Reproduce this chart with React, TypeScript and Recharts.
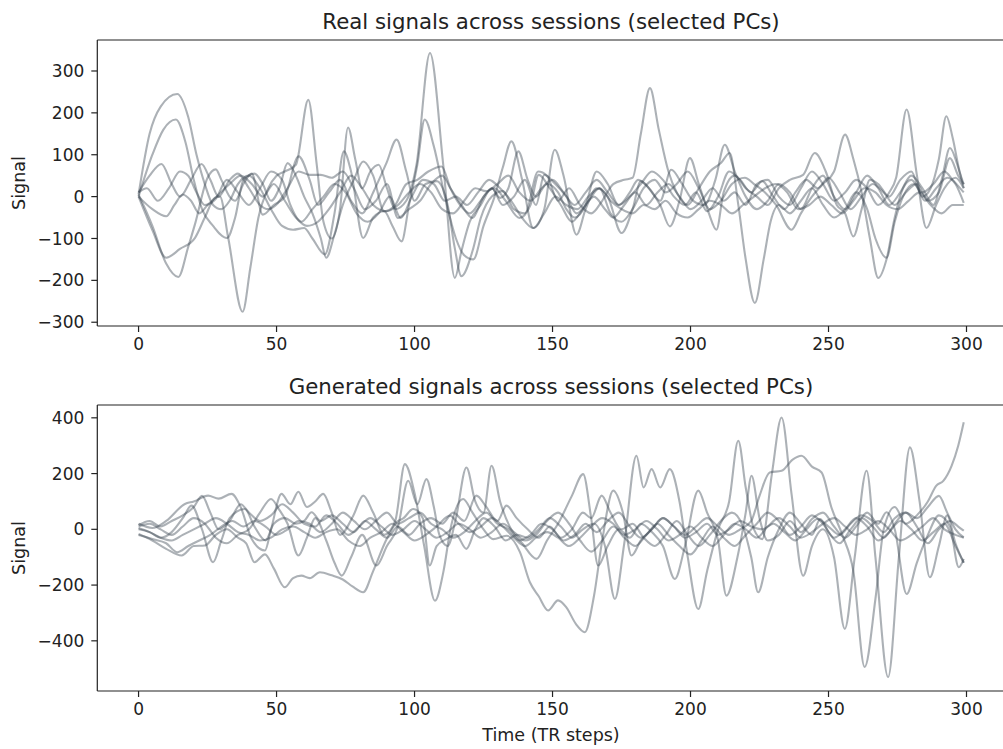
import { LineChart, Line, XAxis, YAxis } from 'recharts';

type Pt = [number, number];

// time axis (TR steps) and tick labels
const xTicks = [0, 50, 100, 150, 200, 250, 300];
const xDomain: [number, number] = [-14.95, 313.95];
const realTicks = [-300, -200, -100, 0, 100, 200, 300];
const realDomain: [number, number] = [-309, 374];
const genTicks = [-400, -200, 0, 200, 400];
const genDomain: [number, number] = [-580, 446];

// real signals, [t, value]
const realA: Pt[] = [[0,5],[4,150],[8,215],[14,245],[18,190],[21,100],[24,30],[27,-20],[30,-30],[33,-10],[36,30],[40,50],[44,20],[48,-30],[52,-70],[56,-79],[60,-75],[63,-100],[67.5,-138],[71,-40],[74.4,108],[77,60],[81.4,-99],[85,-50],[89,-35],[92,-70],[95.3,-107],[98,-20],[101,76],[103.7,184],[107,120],[111,0],[115,-100],[118,-140],[121.3,-150],[125,-70],[129,0],[132,70],[135.1,132],[139,40],[143,-75],[147,-30],[150.8,112],[154,50],[158.7,-91],[162,-30],[166,20],[170,0],[175,-87],[179,-30],[182,37],[186,10],[189,-20],[192.5,-71],[196,-10],[199.8,92],[203,30],[206.4,-35],[209.4,-79],[212,10],[216,50],[220,20],[224,0],[228,-20],[232,20],[236,40],[240.8,52],[245,104],[249,60],[253,-20],[256,-40],[259,-95],[262,-30],[265,40],[268,30],[272,0],[276,40],[280,60],[284,0],[287,20],[290,90],[292.7,192],[295,140],[297.5,60],[299,29]];
const realB: Pt[] = [[0,0],[5,100],[9,160],[13.5,184],[17,130],[20,40],[23,-30],[27,-70],[32,-99],[35,-50],[38,40],[42,55],[45,30],[48,-10],[51,20],[54,80],[57,50],[60,0],[63,-40],[66,-99],[68,-146],[71,-90],[74,-20],[78,40],[81.4,84],[85,50],[89,-35],[93,-20],[97,30],[101,40],[105,60],[109.8,72],[113,20],[116.4,-19],[120,-40],[124,-10],[128,20],[131,-3],[134,20],[137.6,108],[141,40],[144,0],[148,30],[152,10],[155,-30],[158,-50],[162,-20],[166,60],[170,30],[174,-20],[178,10],[181,40],[185,20],[189,-10],[193,64],[197,30],[201,-10],[205,-20],[209,40],[212.4,124],[216,60],[220,0],[224,-30],[228,-10],[232,30],[236,10],[240,-30],[244,20],[248,50],[252,0],[256,-30],[260,10],[264,50],[268,20],[272,-20],[276,10],[280,50],[284,20],[288,-20],[291,40],[294,116],[296.5,80],[299,20]];
const realC: Pt[] = [[0,5],[5,-70],[10,-160],[14.4,-192],[18,-120],[20.4,-67],[25,45],[28,65],[30,40],[33,0],[35,-10],[38,30],[41,55],[45,-43],[49,-20],[53,0],[58,96],[62,40],[65,-20],[69,10],[73,40],[77,-10],[81,-40],[85,10],[89.8,80],[93.5,136],[97,60],[100,-10],[104,30],[108,37],[112,-20],[114.5,-120],[117,-190],[121,-130],[124,-51],[128,0],[132,13],[136,-30],[140,-40],[144.8,60],[148,50],[152,-10],[156,20],[160,-20],[164,-40],[168,-10],[172,30],[176,40],[179,45],[182,150],[185.3,259],[188.5,160],[192,60],[195,10],[199,-20],[203,20],[207,60],[211,80],[214.2,104],[217.3,-19],[220,-150],[223.3,-254],[226.5,-150],[229,-60],[232,-20],[236,-40],[240,-10],[244,20],[248,-20],[252,-50],[256,-30],[260,10],[264,-30],[267,-100],[271,-146],[274,-60],[277,0],[281,30],[285,-10],[289,20],[293,45],[296,30],[299,-15]];
const realD: Pt[] = [[0,0],[5,-80],[10,-146],[15,-125],[20.4,-99],[24,-50],[27.7,-3],[29.5,0],[32.5,-99],[37.7,-275],[40.5,-170],[43.4,-51],[47,20],[50,50],[53,60],[57,76],[61.5,231],[64.5,80],[67,-60],[70,-100],[73,-30],[75.9,165],[78.5,90],[81,20],[84,60],[87,76],[90,20],[93,-30],[97,-10],[100.7,76],[105.6,343],[110.4,76],[114.6,-194],[117,-130],[120,-60],[124,-20],[128,20],[132,-20],[136,0],[140,40],[144,-20],[147,52],[151,30],[155,0],[158.7,-40],[163,-10],[167,20],[171,-40],[175,-60],[179,-30],[183,20],[187,40],[191,10],[195,30],[199,60],[203,20],[207,-30],[211,-10],[215,30],[219.7,45],[223,30],[227,10],[231,-20],[236.6,-79],[240,-40],[244,0],[248,30],[252,60],[256,148],[259,90],[262,10],[265,-100],[268,-194],[271,-150],[274,-50],[277,20],[280,40],[284,10],[288,30],[292,60],[295,40],[299,10]];
const realE: Pt[] = [[0,10],[4,50],[8.3,78],[12,30],[15,0],[19,40],[22.8,78],[26,40],[29,0],[33,40],[36,55],[40,20],[44,-20],[47,-30],[50,-19],[54,20],[58,60],[62,52],[66,52],[70,45],[74,60],[78,20],[82,-30],[86,-10],[90,30],[94,-51],[98,-30],[102,-10],[106,30],[110,50],[113,20],[117,-20],[121,-51],[125,0],[129,20],[133,-10],[138,-51],[142,-20],[145,52],[149,20],[153,-20],[157,-60],[161,-30],[165,0],[169,-30],[172,-50],[176,-20],[180,10],[184,-20],[188,10],[192,30],[196,0],[200,-30],[204,-10],[208,20],[212,-10],[216,10],[220,-20],[224,30],[228,40],[232,0],[236,-20],[240,20],[244,60],[248,30],[252,-10],[256,10],[260,40],[264,20],[268,-20],[272,10],[274.5,45],[278.3,208],[282,52],[285.5,-75],[289,-20],[292,20],[296,45],[299,20]];
const realF: Pt[] = [[0,0],[5,-30],[10,-47],[13,-20],[16,5],[19,-10],[22,-40],[25,-20],[29,5],[33,30],[37,50],[41,30],[45,0],[49,30],[53,-10],[57,-50],[61,-70],[65,-60],[69,-30],[73,10],[77,50],[81,20],[85,-20],[89.8,-35],[94,-20],[98,10],[102,30],[106,10],[110,-30],[114,-40],[118,-10],[122,20],[126,13],[130,30],[134,50],[138,10],[142,-10],[146,20],[150,40],[154,10],[158,-20],[162,10],[166,40],[170,10],[174,-20],[178,0],[182,30],[186,60],[190,40],[194,0],[198,-20],[202,10],[206,-35],[210,0],[214,60],[218,40],[222,10],[226,37],[230,0],[234,-30],[238,10],[242,40],[246,20],[250,45],[254,10],[258,-30],[262,0],[266,30],[270,10],[274,-20],[278,10],[282,30],[286,-10],[290,10],[294,92],[297,50],[299,30]];
const realG: Pt[] = [[0,10],[3,20],[7,-10],[11,20],[15,60],[18,50],[21,10],[24,-20],[28,-5],[32,40],[36,10],[40,-20],[44,20],[48,60],[52,40],[55,-20],[59,-60],[63,-30],[67,0],[71,30],[75,10],[79,-40],[83,-60],[87,-40],[91,0],[95,-51],[99,0],[103,40],[107,30],[111,-10],[115,0],[119,-20],[123,10],[127,40],[131,20],[135,-10],[139,-51],[143,-75],[147,-40],[151,0],[155,-20],[159,-30],[163,0],[167,20],[171,-10],[175,-30],[179,-40],[183,-20],[187,-30],[191,-10],[195,-40],[199,-50],[203,-30],[207,-10],[211,-20],[215,-40],[219,-20],[223,0],[227,20],[231,30],[235,10],[239,-30],[243,-20],[247,0],[251,-20],[255,-40],[259,-10],[263,20],[267,10],[271,-20],[275,-30],[279,-10],[283,10],[287,-20],[291,-40],[295,-20],[299,-20]];

// generated signals, [t, value]
const genA: Pt[] = [[0,20],[5,5],[10,30],[16.8,91],[20,100],[25.2,121],[29,110],[33.7,127],[37,80],[41,-35],[45.8,-76],[48,0],[51.8,127],[55,90],[57.9,135],[61,80],[64,100],[66.9,127],[70,60],[73,-20],[77.8,49],[81.4,121],[85,60],[89,-20],[93,30],[96.5,234],[100,130],[103.5,-60],[107.4,-256],[110.5,-150],[113,0],[117.6,109],[121,60],[125,0],[128.5,-35],[133.3,-23],[138.2,-82],[141.8,-190],[145,-240],[148.4,-291],[152,-255],[155,-280],[158.5,-340],[161.7,-369],[165,-240],[168,-40],[172,139],[175.5,60],[178.6,-94],[182,-40],[186,0],[190,40],[194,10],[198,-20],[202,10],[206,40],[210,10],[214,-20],[218,0],[222,30],[225,120],[228.7,204],[233,210],[237,250],[240.2,264],[244,225],[247.5,204],[251,80],[255,-20],[259,-150],[263.1,-494],[267,-250],[270,0],[274,80],[278,20],[282,50],[286,100],[289,156],[291.6,174],[294.6,228],[297,300],[299,384]];
const genB: Pt[] = [[0,-17],[5,-40],[10,-70],[15.6,-94],[20,-60],[24,-58],[28,-20],[32,0],[36,-30],[39,-50],[42,-118],[45.8,-90],[49,-140],[53,-208],[56,-175],[59,-166],[62,-175],[65.7,-154],[70,-165],[74,-180],[77.5,-205],[81.4,-226],[85,-150],[89.9,-35],[93.5,25],[96,40],[99.5,73],[103,40],[105.5,-130],[108,-60],[111.6,-35],[115,-20],[118.8,-70],[122,0],[125,40],[129,10],[133,-40],[137,-20],[141,-30],[145,0],[149,40],[153,10],[157,-30],[161,0],[165,20],[169,-60],[172.6,-250],[176,-50],[180.4,264],[183,150],[185.9,216],[189,150],[192.5,216],[196,100],[199,-100],[202.8,-286],[206,-150],[210,0],[214,100],[217.3,318],[220,150],[223,0],[226,-35],[229.5,200],[233,401],[236.6,127],[240.8,-166],[244,-60],[248,0],[252,-100],[255.9,-357],[259.5,-100],[263.8,210],[267,-100],[271.6,-530],[275.5,-100],[279.5,294],[283,100],[286.7,-172],[290,-60],[293,50],[296,-50],[299,-120]];
const genC: Pt[] = [[0,10],[4,20],[8,0],[12,-20],[16,10],[20,40],[24,20],[28,-30],[32,-50],[36,-20],[40,0],[44,60],[48,109],[51,70],[54,20],[57.9,-94],[61,-30],[64,40],[68,-40],[71,-120],[73.6,-166],[77,-100],[81,-20],[86.2,-130],[90,-60],[94,10],[97.7,174],[101,90],[104.3,180],[107,80],[109,-20],[112,-60],[115,40],[118.8,222],[122,100],[125,60],[127.9,228],[131,100],[135,0],[139,-50],[144.2,-106],[148,-40],[152,20],[157,120],[161.1,198],[164,40],[166.5,-130],[170,-60],[174,0],[178,-30],[182,20],[186,-10],[190,-60],[194.3,-178],[198,-60],[202.8,139],[206,60],[210,-40],[213,-238],[217,-100],[220,60],[222.1,192],[225,40],[228,-40],[232,-20],[236,30],[240,-10],[244,37],[248,60],[252,10],[256,-30],[260,10],[264,60],[268,20],[271,61],[274,0],[278.3,-232],[282,-120],[286,-20],[290,50],[294,10],[297.2,-136],[299,-106]];
const genD: Pt[] = [[0,0],[4,-10],[8,-30],[12,-10],[16,40],[19.2,85],[23,0],[27,-118],[30,-40],[33,40],[38.5,73],[42,10],[46,-40],[49,20],[53,40],[57,20],[60,30],[62.7,61],[66,30],[70,50],[74,20],[78,-10],[82,30],[86,0],[90,-30],[94,10],[98,-20],[102,20],[106,40],[110,20],[114,60],[118,30],[122.4,121],[126,80],[130,30],[133.3,85],[137,40],[141,0],[145,-30],[149,10],[153,-30],[157,0],[161,60],[164,40],[167.8,121],[171,60],[175,0],[179,20],[183,-30],[187,-60],[191,-20],[195,30],[199,-20],[203,-60],[207,-20],[211,30],[215,60],[219,10],[222,-100],[224.5,-226],[228,-100],[232,0],[236,60],[240,20],[244,-20],[247,37],[250,-10],[254,-50],[258,0],[262,40],[266,10],[270,-30],[274,20],[278,60],[282,10],[286,-50],[290,0],[294,30],[297,10],[299,-5]];
const genE: Pt[] = [[0,-20],[5,-35],[10,-50],[14,-82],[18,-60],[22,-40],[26,-20],[30,10],[34,30],[38,10],[42,30],[46,10],[50,-20],[54,0],[58,30],[62,20],[66,-10],[70,20],[74,60],[78,30],[82,0],[86,30],[90,60],[94,20],[98,40],[102,60],[106,20],[110,0],[114,-30],[118,-10],[122,30],[126,60],[130,20],[134,0],[138,-40],[142,-20],[146,20],[150,0],[154,-40],[158,-20],[162,20],[166,-10],[170,30],[174,60],[178,10],[182,-30],[186,0],[190,40],[194,10],[198,-30],[202,-10],[206,20],[210,-20],[214,0],[218,30],[222,10],[226,0],[230,20],[234,-10],[238,-40],[242,0],[246,37],[250,10],[254,-20],[258,20],[262,50],[266,30],[270,-10],[274,40],[278,60],[282,40],[286,80],[290,120],[293,60],[296,0],[299,-29]];
const genF: Pt[] = [[0,15],[4,30],[8,10],[12,30],[16,50],[20,80],[23,120],[26,60],[29,0],[33,30],[37,90],[40,60],[44,30],[48,50],[52,90],[56,60],[60,20],[64,10],[68,50],[72,20],[76,-20],[80,10],[84,40],[88,10],[92,-20],[96,0],[100,30],[104,0],[108,-30],[112,-10],[116,20],[120,0],[124,-30],[128,-10],[132,20],[136,-10],[140,-40],[144,-20],[148,30],[152,60],[156,20],[160,-40],[164,-80],[168,-40],[172,10],[176,-30],[180,-60],[184,-20],[188,20],[192,-20],[196,-60],[200,-90],[204,-40],[208,10],[212,-30],[216,-60],[220,-20],[224,20],[228,60],[232,30],[236,-20],[240,10],[244,50],[248,20],[252,-30],[256,0],[260,40],[264,10],[268,-40],[272,-10],[276,30],[280,0],[284,-40],[288,-10],[292,20],[296,-60],[299,-120]];
const genG: Pt[] = [[0,5],[4,-10],[8,-30],[12,-40],[16,-20],[20,0],[24,20],[28,40],[32,20],[36,-10],[40,-20],[44,-40],[48,-30],[52,0],[56,10],[60,-10],[64,-30],[68,-10],[72,0],[76,-40],[80,-60],[84,-30],[88,-10],[92,20],[96,-10],[100,-40],[104,-20],[108,10],[112.8,49],[116,20],[120,-10],[124,10],[128,40],[132,10],[136,-30],[140,-60],[144,-30],[148,-10],[152,-30],[156,-60],[160,-30],[164,10],[168,40],[172,20],[176,-20],[180,0],[184,30],[188,0],[192,-40],[196,-20],[200,10],[204,-30],[208,-60],[212,-20],[216,20],[220,0],[224,-30],[228,10],[232,40],[236,10],[240,-30],[244,-10],[248,20],[252,40],[256,10],[260,-20],[264,0],[268,30],[272,0],[276,-40],[280,-20],[284,10],[288,40],[292,0],[296,-20],[299,-30]];

const realSeries = [realA, realB, realC, realD, realE, realF, realG];
const genSeries = [genA, genB, genC, genD, genE, genF, genG];

const toRows = (pts: Pt[]) => pts.map(([t, v]) => ({ t, v }));
const fmt = (v: number) => String(v).replace('-', '\u2212');

const ink = '#222';
const tickFont = { fontSize: 17, fill: ink, fontFamily: '"DejaVu Sans", sans-serif' };

function Panel({ series, yDomain, yTicks }: { series: Pt[][]; yDomain: [number, number]; yTicks: number[] }) {
  return (
    <LineChart width={1005} height={360} margin={{ top: 39, right: 0, bottom: 0, left: 0 }}>
      <XAxis
        dataKey="t"
        type="number"
        domain={xDomain}
        ticks={xTicks}
        allowDataOverflow
        height={34}
        tickSize={6}
        tickMargin={6}
        tick={tickFont}
        axisLine={{ stroke: ink, strokeWidth: 1.2 }}
        tickLine={{ stroke: ink, strokeWidth: 1.2 }}
      />
      {/* top spine */}
      <XAxis
        xAxisId="top"
        orientation="top"
        type="number"
        domain={xDomain}
        allowDataOverflow
        height={1}
        tick={false}
        tickLine={false}
        axisLine={{ stroke: ink, strokeWidth: 1.2 }}
      />
      <YAxis
        type="number"
        domain={yDomain}
        ticks={yTicks}
        allowDataOverflow
        width={97.3}
        tickSize={6}
        tickMargin={7}
        tick={tickFont}
        tickFormatter={fmt}
        axisLine={{ stroke: ink, strokeWidth: 1.2 }}
        tickLine={{ stroke: ink, strokeWidth: 1.2 }}
      />
      {series.map((s, i) => (
        <Line
          key={i}
          data={toRows(s)}
          dataKey="v"
          type="monotone"
          stroke="#3a4450"
          strokeOpacity={0.42}
          strokeWidth={2.1}
          strokeLinejoin="round"
          dot={false}
          activeDot={false}
          isAnimationActive={false}
        />
      ))}
    </LineChart>
  );
}

const titleStyle = {
  position: 'absolute' as const,
  left: 97.3,
  width: 907.4,
  textAlign: 'center' as const,
  fontSize: 21.3,
  lineHeight: 'normal',
  whiteSpace: 'nowrap' as const,
};

const yLabelStyle = (cy: number) => ({
  position: 'absolute' as const,
  left: 19 - 60,
  top: cy - 10,
  width: 120,
  height: 20,
  lineHeight: '20px',
  textAlign: 'center' as const,
  fontSize: 17.5,
  transform: 'rotate(-90deg)',
});

export default function App() {
  return (
    <div
      style={{
        position: 'absolute',
        left: 0,
        top: 0,
        width: 1003,
        height: 749,
        overflow: 'hidden',
        background: '#fff',
        color: ink,
        fontFamily: '"DejaVu Sans", sans-serif',
      }}
    >
      <div style={{ position: 'absolute', left: 0, top: 0 }}>
        <Panel series={realSeries} yDomain={realDomain} yTicks={realTicks} />
      </div>
      <div style={{ position: 'absolute', left: 0, top: 365 }}>
        <Panel series={genSeries} yDomain={genDomain} yTicks={genTicks} />
      </div>
      <div style={{ ...titleStyle, top: 9 }}>Real signals across sessions (selected PCs)</div>
      <div style={{ ...titleStyle, top: 374 }}>Generated signals across sessions (selected PCs)</div>
      <div style={yLabelStyle(183)}>Signal</div>
      <div style={yLabelStyle(548)}>Signal</div>
      <div style={{ ...titleStyle, top: 725, fontSize: 17.5 }}>Time (TR steps)</div>
    </div>
  );
}
